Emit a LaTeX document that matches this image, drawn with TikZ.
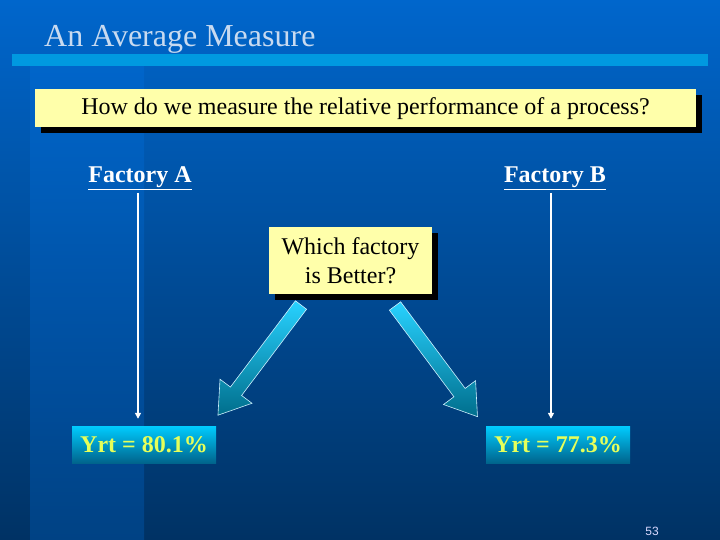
\documentclass[tikz,border=0pt]{standalone}
\usepackage{fontspec}
\setmainfont{Liberation Serif}
\setsansfont{Liberation Sans}
\usetikzlibrary{arrows.meta,calc}
\definecolor{bgtop}{RGB}{0,102,204}
\definecolor{bgbot}{RGB}{0,50,100}
\definecolor{bandbot}{RGB}{0,68,136}
\definecolor{barblue}{RGB}{0,153,224}
\definecolor{titlecol}{RGB}{200,218,240}
\definecolor{noteyellow}{RGB}{255,255,170}
\definecolor{yrtyellow}{RGB}{230,255,90}
\definecolor{cyanbox}{RGB}{0,204,255}
\definecolor{tealbox}{RGB}{0,100,140}
\definecolor{arrowcyan}{RGB}{40,210,255}
\definecolor{arrowteal}{RGB}{0,110,140}
\tikzset{
  notebox/.style={draw=none, fill=noteyellow, inner sep=0pt, align=center,
    font=\fontsize{24}{29}\selectfont},
  shadowbox/.style={fill=black},
  factory/.style={text=white, font=\bfseries\fontsize{24}{28}\selectfont, inner sep=0pt},
  yrtbox/.style={minimum width=144pt, minimum height=37pt, inner sep=0pt,
    top color=cyanbox, bottom color=tealbox, text=yrtyellow,
    font=\bfseries\fontsize{24}{28}\selectfont},
  thinarrow/.style={draw=white, line width=1.5pt, shorten >=7pt, -{Triangle[width=6pt,length=6pt]}},
  fatarrow/.style={draw=white!80!cyan, line width=0.6pt, top color=arrowcyan, bottom color=arrowteal}
}
\begin{document}
\begin{tikzpicture}[x=1pt,y=-1pt]
% background
\shade[top color=bgtop, bottom color=bgbot] (0,0) rectangle (720,540);
\shade[top color=bgtop, bottom color=bandbot, opacity=0.9] (30,66) rectangle (144,540);
\useasboundingbox (0,0) rectangle (720,540);
% title
\node[anchor=base west, text=titlecol, font=\fontsize{32}{36}\selectfont, inner sep=0pt] (title) at (44,47) {An Average Measure};
\fill[barblue] (12,54) rectangle (708,66);
% question box
\fill[shadowbox] (41,95) rectangle (702,133);
\node[notebox, minimum width=661pt, minimum height=38pt] (q) at (365.5,108.5) {How do we measure the relative performance of a process?};
% factories
\node[factory] (fa) at (140,178) {\underline{Factory A}};
\node[factory] (fb) at (555,178) {\underline{Factory B}};
% which box
\fill[shadowbox] (275,233) rectangle (438,300);
\node[notebox, minimum width=163pt, minimum height=67pt] (w) at (350.5,260.5) {Which factory\\is Better?};
% result boxes
\node[yrtbox] (ya) at (144,444.5) {Yrt = 80.1\%};
\node[yrtbox] (yb) at (558,444.5) {Yrt = 77.3\%};
% thin arrows
\coordinate (la) at (138,193);
\coordinate (lb) at (551,193);
\draw[thinarrow] (la) -- (la |- ya.north);
\draw[thinarrow] (lb) -- (lb |- yb.north);
% fat arrows
\coordinate (at) at (301,305);
\coordinate (bt) at (395,306);
\begin{scope}[shift={(at)}, rotate=-127.0]
  \path[fatarrow] (0,-7) -- (108,-7) -- (108,-20) -- (138,0) -- (108,20) -- (108,7) -- (0,7) -- cycle;
\end{scope}
\begin{scope}[shift={(bt)}, rotate=-53.3]
  \path[fatarrow] (0,-7) -- (108,-7) -- (108,-20) -- (138,0) -- (108,20) -- (108,7) -- (0,7) -- cycle;
\end{scope}
% page number
\node[text=white!85!blue, font=\sffamily\fontsize{12}{14}\selectfont, inner sep=0pt] (pg) at (652,531) {53};
\end{tikzpicture}
\end{document}
